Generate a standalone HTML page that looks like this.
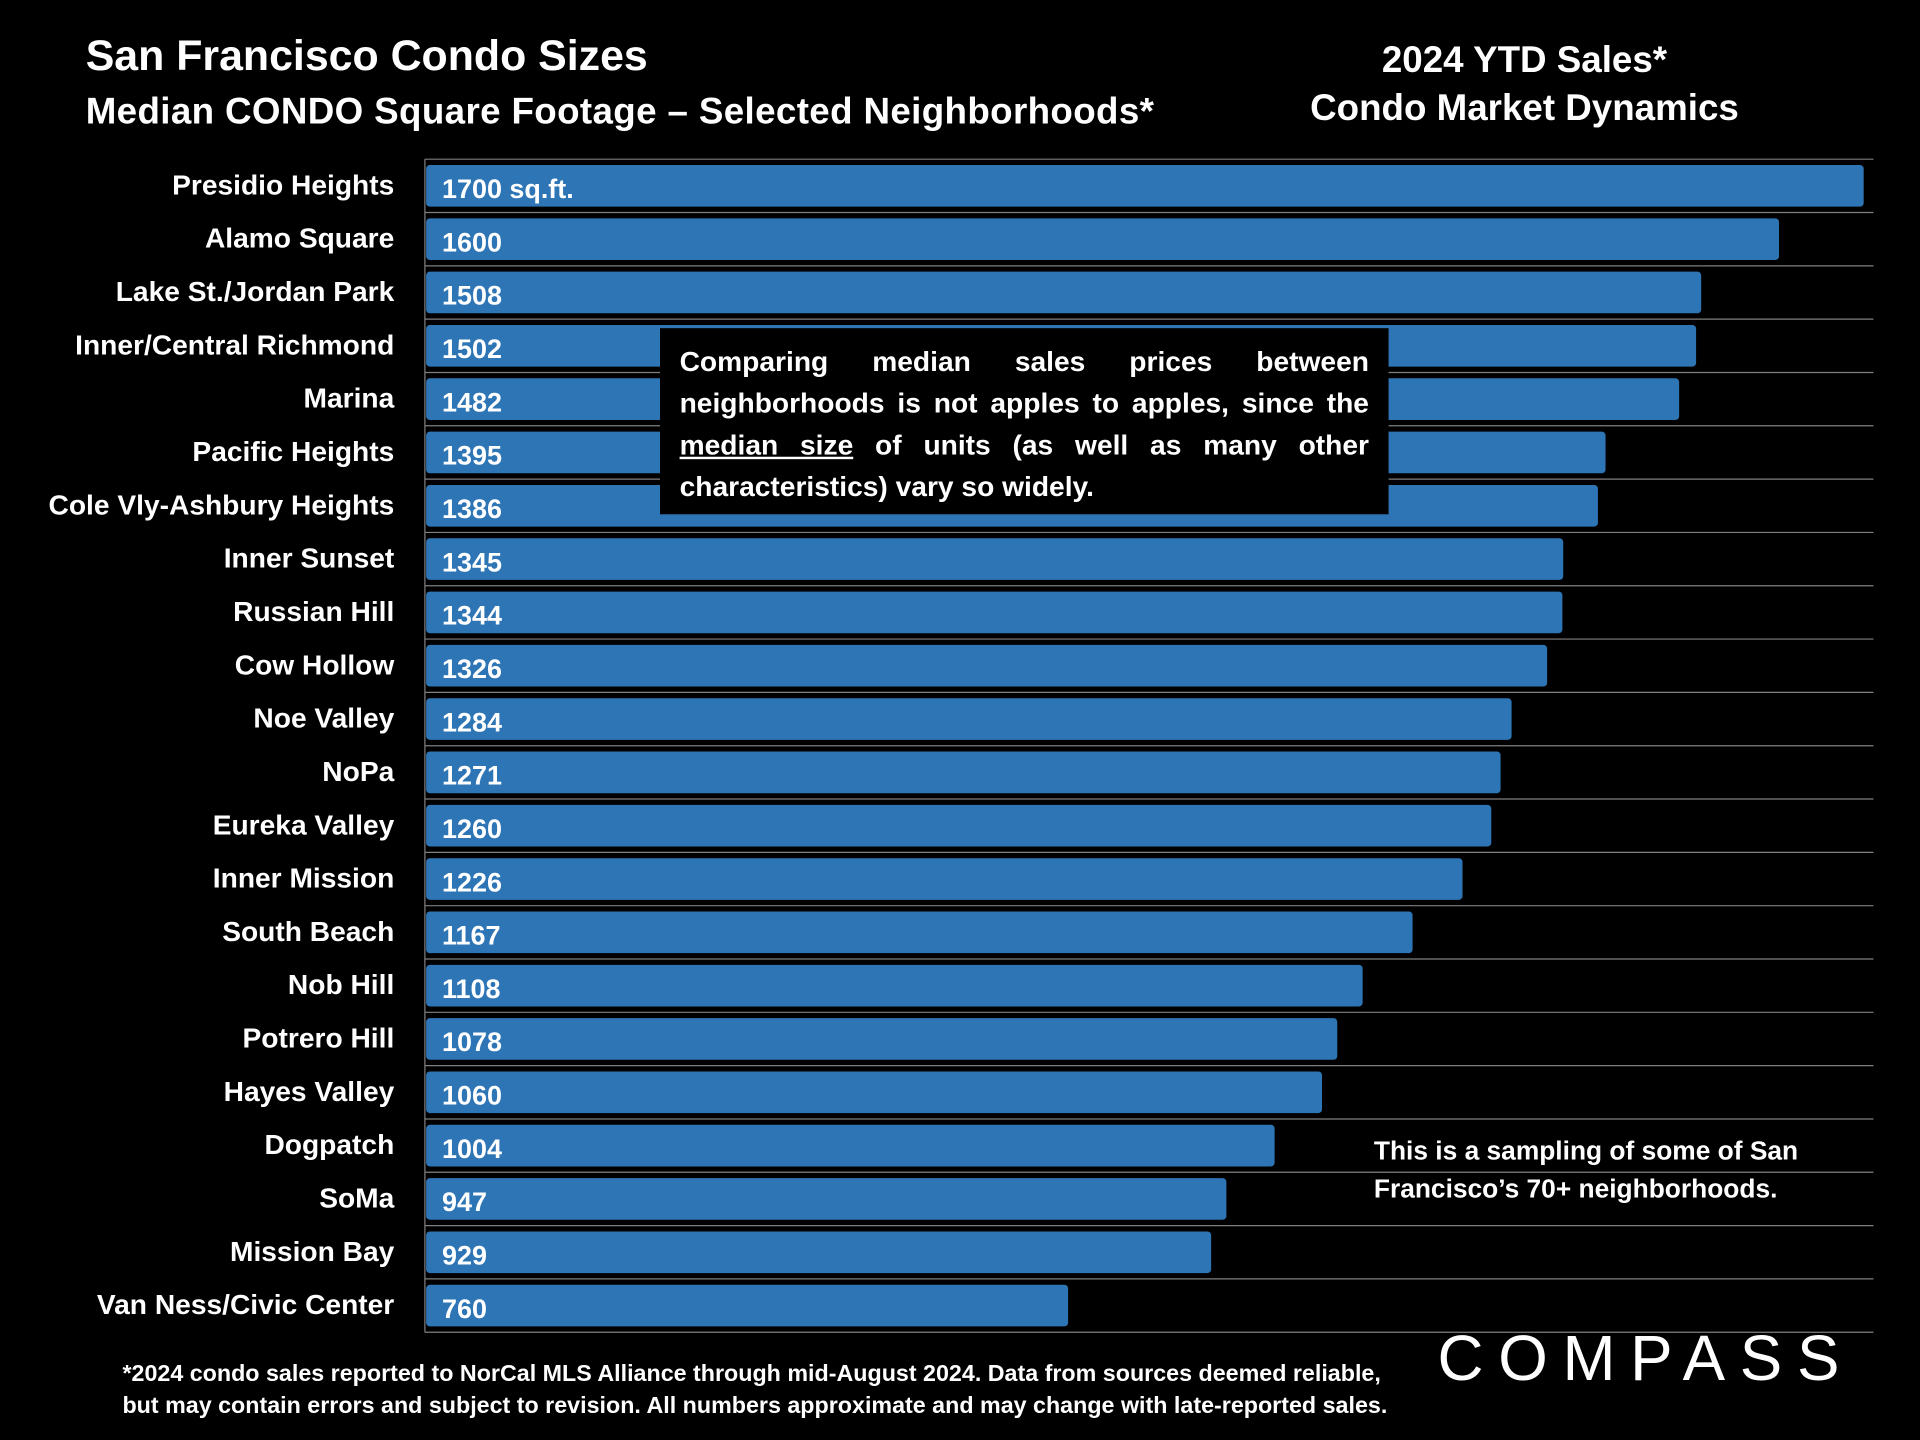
<!DOCTYPE html>
<html><head><meta charset="utf-8"><style>
html,body{margin:0;padding:0;background:#000;width:1920px;height:1440px;overflow:hidden}
#stage{position:absolute;left:0;top:0;width:1568px;height:1176px;transform:scale(1.22449);transform-origin:0 0;background:#000;font-family:"Liberation Sans",Arial,sans-serif;color:#fff;font-weight:bold}
.t{position:absolute;white-space:nowrap}
</style></head><body>
<div id="stage">
<div class="t" style="left:70px;top:26px;font-size:35px">San Francisco Condo Sizes</div>
<div class="t" style="left:70px;top:75px;font-size:30px;letter-spacing:0.3px">Median CONDO Square Footage – Selected Neighborhoods*</div>
<div class="t" style="left:1045px;width:400px;text-align:center;top:30px;font-size:30px;line-height:39px">2024 YTD Sales*<br>Condo Market Dynamics</div>
<svg id="chart" width="1568" height="1176" style="position:absolute;left:0;top:0"></svg>
<div style="position:absolute;left:539px;top:268px;padding:10px 16px;box-sizing:content-box;width:563px;height:132px;background:#000;font-size:23px;line-height:34px;text-align:justify;text-align-last:left">Comparing median sales prices between neighborhoods is not apples to apples, since the <u>median size</u> of units (as well as many other characteristics) vary so widely.</div>
<div class="t" style="left:1122px;top:925px;font-size:21.5px;line-height:31px">This is a sampling of some of San<br>Francisco’s 70+ neighborhoods.</div>
<div class="t" style="left:100px;top:1110px;font-size:19px;line-height:26px">*2024 condo sales reported to NorCal MLS Alliance through mid-August 2024. Data from sources deemed reliable,<br>but may contain errors and subject to revision. All numbers approximate and may change with late-reported sales.</div>
<div class="t" style="left:1174px;top:1080px;font-size:52px;font-weight:normal;letter-spacing:12px">COMPASS</div>
</div>
<script>
const categories=["Presidio Heights","Alamo Square","Lake St./Jordan Park","Inner/Central Richmond","Marina","Pacific Heights","Cole Vly-Ashbury Heights","Inner Sunset","Russian Hill","Cow Hollow","Noe Valley","NoPa","Eureka Valley","Inner Mission","South Beach","Nob Hill","Potrero Hill","Hayes Valley","Dogpatch","SoMa","Mission Bay","Van Ness/Civic Center"];
const values=[1700,1600,1508,1502,1482,1395,1386,1345,1344,1326,1284,1271,1260,1226,1167,1108,1078,1060,1004,947,929,760];
const valueLabels=["1700 sq.ft.","1600","1508","1502","1482","1395","1386","1345","1344","1326","1284","1271","1260","1226","1167","1108","1078","1060","1004","947","929","760"];
const svg=document.getElementById('chart');const NS='http://www.w3.org/2000/svg';
const x0=347,xMax=1522,top0=130,bottom0=1088;
const step=(bottom0-top0)/categories.length;
const x=v=>x0+(xMax-x0)*v/1700;
const yc=i=>top0+step*(i+0.5);
function mk(t,a){const e=document.createElementNS(NS,t);for(const k in a)e.setAttribute(k,a[k]);svg.appendChild(e);return e;}
for(let i=0;i<=categories.length;i++){const g=mk('line',{x1:x0,x2:1530,y1:top0+step*i,y2:top0+step*i,stroke:'#7f7f7f','stroke-width':1});

}
const ax=mk('line',{x1:x0,x2:x0,y1:top0,y2:bottom0,stroke:'#7f7f7f','stroke-width':1});


categories.forEach((c,i)=>{
const b=mk('rect',{x:x0+1,y:yc(i)-17,width:x(values[i])-x0-1,height:34,rx:3,fill:'#2e75b6'});


const l=mk('text',{x:322,y:yc(i)+7,'text-anchor':'end',fill:'#fff','font-size':23,'font-weight':'bold','font-family':'Liberation Sans, Arial, sans-serif'});
l.textContent=c;


const v=mk('text',{x:361,y:yc(i)+10,fill:'#fff','font-size':22,'font-weight':'bold','font-family':'Liberation Sans, Arial, sans-serif'});
v.textContent=valueLabels[i];


});
</script>
</body></html>
